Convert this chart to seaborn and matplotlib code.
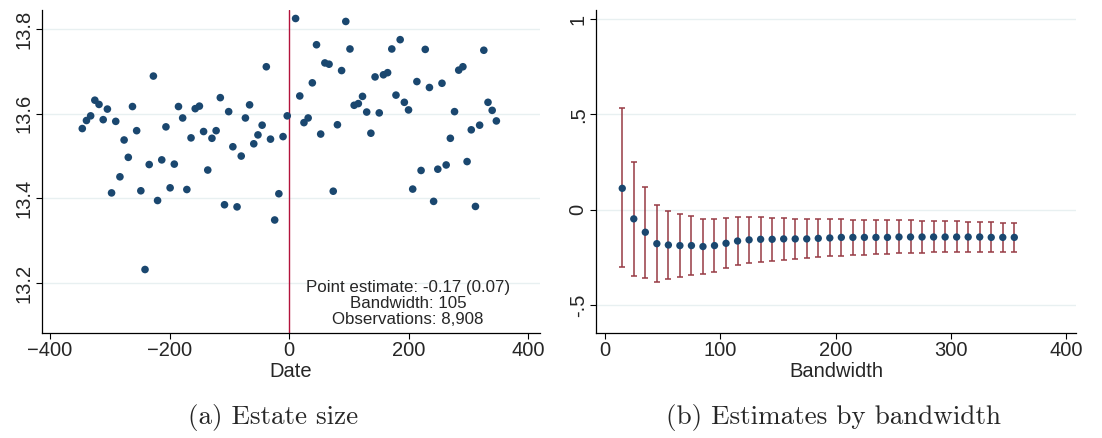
import numpy as np
import pandas as pd
import matplotlib
matplotlib.use("Agg")
import matplotlib.pyplot as plt
import seaborn as sns

# panel (a): weekly bin means of log estate size around the cutoff
dates_left = [-346, -339, -332, -325, -318, -311, -304, -297, -290, -283,
              -276, -269, -262, -255, -248, -241, -234, -227, -220, -213,
              -206, -199, -192, -185, -178, -171, -164, -157, -150, -143,
              -136, -129, -122, -115, -108, -101, -94, -87, -80, -73,
              -66, -59, -52, -45, -38, -31, -24, -17, -10, -3]
size_left = [13.565, 13.584, 13.595, 13.632, 13.622, 13.586, 13.611, 13.413, 13.582, 13.451,
             13.538, 13.497, 13.617, 13.560, 13.418, 13.232, 13.480, 13.689, 13.395, 13.491,
             13.569, 13.425, 13.481, 13.617, 13.590, 13.421, 13.543, 13.612, 13.618, 13.558,
             13.467, 13.542, 13.560, 13.638, 13.385, 13.605, 13.522, 13.380, 13.500, 13.590,
             13.621, 13.529, 13.550, 13.573, 13.711, 13.540, 13.349, 13.411, 13.546, 13.595]
dates_right = [11, 18, 25, 32, 39, 46, 53, 60, 67, 74,
               81, 88, 95, 102, 109, 116, 123, 130, 137, 144,
               151, 158, 165, 172, 179, 186, 193, 200, 207, 214,
               221, 228, 235, 242, 249, 256, 263, 270, 277, 284,
               291, 298, 305, 312, 319, 326, 333, 340, 347]
size_right = [13.825, 13.642, 13.579, 13.590, 13.673, 13.763, 13.552, 13.720, 13.717, 13.417,
              13.574, 13.702, 13.818, 13.753, 13.620, 13.624, 13.641, 13.604, 13.554, 13.687,
              13.602, 13.692, 13.697, 13.753, 13.644, 13.775, 13.627, 13.609, 13.422, 13.676,
              13.466, 13.752, 13.662, 13.393, 13.469, 13.672, 13.479, 13.542, 13.605, 13.703,
              13.711, 13.487, 13.562, 13.381, 13.573, 13.750, 13.627, 13.608, 13.583]
note_lines = ["Point estimate: -0.17 (0.07)", "Bandwidth: 105", "Observations: 8,908"]

# panel (b): RD estimate and 95% CI by bandwidth
bandwidth = [15, 25, 35, 45, 55, 65, 75, 85, 95, 105,
             115, 125, 135, 145, 155, 165, 175, 185, 195, 205,
             215, 225, 235, 245, 255, 265, 275, 285, 295, 305,
             315, 325, 335, 345, 355]
estimate = [0.113, -0.047, -0.117, -0.177, -0.184, -0.187, -0.187, -0.192, -0.187, -0.175,
            -0.163, -0.157, -0.154, -0.154, -0.152, -0.152, -0.152, -0.149, -0.147, -0.144,
            -0.144, -0.144, -0.144, -0.144, -0.142, -0.142, -0.142, -0.142, -0.142, -0.142,
            -0.142, -0.142, -0.144, -0.144, -0.144]
ci_high = [0.533, 0.253, 0.122, 0.024, -0.004, -0.021, -0.032, -0.046, -0.047, -0.040,
           -0.037, -0.037, -0.037, -0.040, -0.044, -0.046, -0.047, -0.049, -0.049, -0.049,
           -0.051, -0.051, -0.053, -0.053, -0.054, -0.054, -0.056, -0.058, -0.058, -0.059,
           -0.061, -0.063, -0.065, -0.068, -0.070]
ci_low = [-0.301, -0.346, -0.357, -0.378, -0.360, -0.350, -0.339, -0.338, -0.325, -0.306,
          -0.290, -0.280, -0.273, -0.266, -0.261, -0.259, -0.254, -0.248, -0.243, -0.240,
          -0.238, -0.234, -0.231, -0.229, -0.226, -0.226, -0.224, -0.222, -0.220, -0.219,
          -0.219, -0.219, -0.219, -0.219, -0.219]

navy = "#1a476f"
maroon = "#973a44"
cutoff_red = "#b3123b"
grid_col = "#e8f0f1"

sns.set_style("white")
plt.rcParams["font.family"] = ["Liberation Sans", "DejaVu Sans"]

scatter_df = pd.DataFrame({"Date": dates_left + dates_right,
                           "size": size_left + size_right})
bw_df = pd.DataFrame({"Bandwidth": bandwidth, "est": estimate,
                      "lo": ci_low, "hi": ci_high})

fig = plt.figure(figsize=(11.02, 4.38), dpi=100)
ax1 = fig.add_axes([0.0378, 0.2397, 0.4522, 0.7374])
ax2 = fig.add_axes([0.5408, 0.2397, 0.4356, 0.7374])

# --- panel a
for y in [13.2, 13.4, 13.6, 13.8]:
    ax1.axhline(y, color=grid_col, lw=1.0, zorder=0)
ax1.axvline(0, color=cutoff_red, lw=1.0, zorder=1)
sns.scatterplot(data=scatter_df, x="Date", y="size", ax=ax1, color=navy,
                s=30, edgecolor="none", zorder=3)
ax1.set_xlim(-414, 420)
ax1.set_ylim(13.082, 13.845)
ax1.set_xticks([-400, -200, 0, 200, 400])
ax1.set_yticks([13.2, 13.4, 13.6, 13.8])
ax1.set_yticklabels(["13.2", "13.4", "13.6", "13.8"], rotation=90, va="center")
ax1.set_xlabel("Date", fontsize=14.5, labelpad=1)
ax1.set_ylabel("")
ax1.text(0.735, 0.09, "\n".join(note_lines), transform=ax1.transAxes,
         ha="center", va="center", fontsize=12.2, linespacing=1.08)

# --- panel b
for y in [-0.5, 0, 0.5, 1]:
    ax2.axhline(y, color=grid_col, lw=1.0, zorder=0)
est = bw_df["est"].to_numpy()
ax2.errorbar(bw_df["Bandwidth"], est,
             yerr=[est - bw_df["lo"].to_numpy(), bw_df["hi"].to_numpy() - est],
             fmt="none", ecolor=maroon, elinewidth=1.1, capsize=2.5,
             capthick=1.1, zorder=2)
sns.scatterplot(data=bw_df, x="Bandwidth", y="est", ax=ax2, color=navy,
                s=28, edgecolor="none", zorder=3)
ax2.set_xlim(-7.8, 408.5)
ax2.set_ylim(-0.645, 1.047)
ax2.set_xticks([0, 100, 200, 300, 400])
ax2.set_yticks([-0.5, 0, 0.5, 1])
ax2.set_yticklabels(["-.5", "0", ".5", "1"], rotation=90, va="center")
ax2.set_xlabel("Bandwidth", fontsize=14.5, labelpad=1)
ax2.set_ylabel("")

for ax in (ax1, ax2):
    sns.despine(ax=ax)
    for sp in ("left", "bottom"):
        ax.spines[sp].set_color("black")
        ax.spines[sp].set_linewidth(0.9)
    ax.tick_params(axis="both", direction="out", length=4, width=0.8,
                   labelsize=14.5, pad=2, color="black", left=True, bottom=True)

fig.text(0.248, 0.046, "(a) Estate size", family="cmr10", fontsize=19.5,
         ha="center", va="center")
fig.text(0.756, 0.046, "(b) Estimates by bandwidth", family="cmr10",
         fontsize=19.5, ha="center", va="center")

fig.savefig("out.png", dpi=100)
